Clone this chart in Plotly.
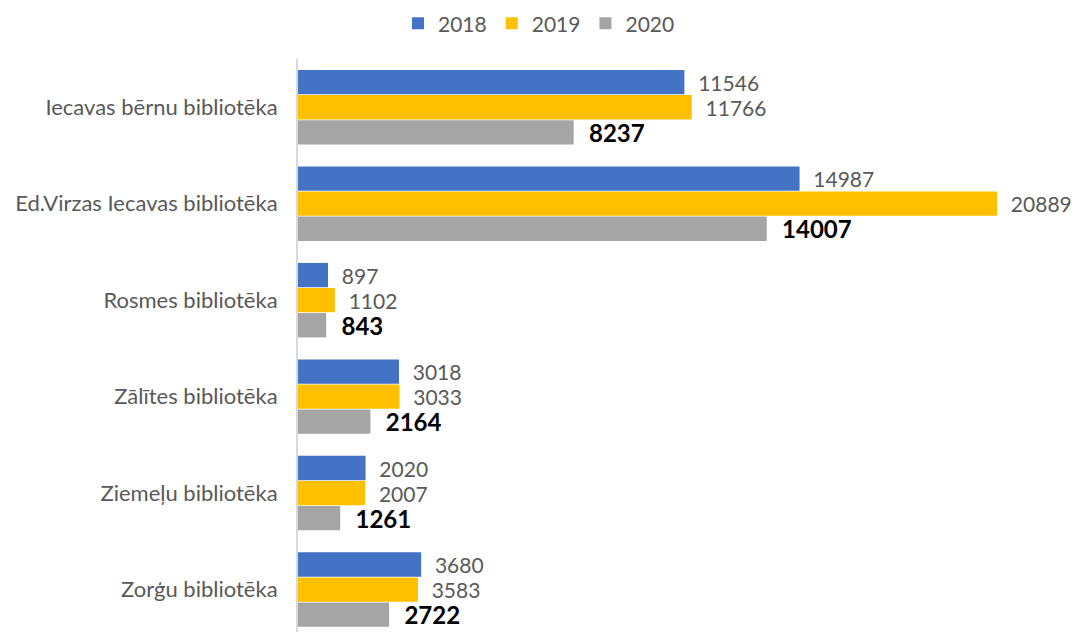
import plotly.graph_objects as go

libraries = ["Iecavas bērnu bibliotēka", "Ed.Virzas Iecavas bibliotēka", "Rosmes bibliotēka",
             "Zālītes bibliotēka", "Ziemeļu bibliotēka", "Zorģu bibliotēka"]
years = ["2018", "2019", "2020"]
v2018 = [11546, 14987, 897, 3018, 2020, 3680]
v2019 = [11766, 20889, 1102, 3033, 2007, 3583]
v2020 = [8237, 14007, 843, 2164, 1261, 2722]

colors = ["#4472C4", "#FFC000", "#A5A5A5"]
FONT = "Lato, Open Sans, sans-serif"

fig = go.Figure()
for year, vals, col in zip(years, [v2018, v2019, v2020], colors):
    bold = year == "2020"
    fig.add_trace(go.Bar(
        name=year,
        y=libraries,
        x=vals,
        text=[str(v) for v in vals],
        orientation="h",
        marker=dict(color=col, line=dict(width=0)),
        texttemplate=("  <b>%{text}</b>" if bold else "  %{text}"),
        textposition="outside",
        constraintext="none",
        cliponaxis=False,
        textfont=dict(family=FONT,
                      size=24 if bold else 21,
                      color="#000000" if bold else "#595959"),
    ))

fig.update_layout(
    barmode="group",
    bargap=0.22,
    bargroupgap=0.03,
    width=1078, height=632,
    margin=dict(l=298, r=27, t=59, b=0, autoexpand=False),
    paper_bgcolor="white",
    plot_bgcolor="white",
    font=dict(family=FONT, color="#595959", size=21),
    legend=dict(orientation="h", x=0.5, xanchor="center", xref="container",
                y=0.995, yref="container", yanchor="top",
                font=dict(size=21, color="#595959"), traceorder="normal"),
    showlegend=True,
)
fig.update_xaxes(range=[0, 22500], visible=False, showgrid=False, zeroline=False,
                 automargin=False)
fig.update_yaxes(
    range=[5.44, -0.5],
    automargin=False,
    showline=True, linecolor="#D9D9D9", linewidth=2,
    ticks="", ticklabelstandoff=14,
    tickfont=dict(size=22, color="#595959"),
    showgrid=False,
)

# page has a default body margin; remove it so the figure fills the window
fig.write_html("out.html", config={"displayModeBar": False},
               post_script="document.body.style.margin='0';")
